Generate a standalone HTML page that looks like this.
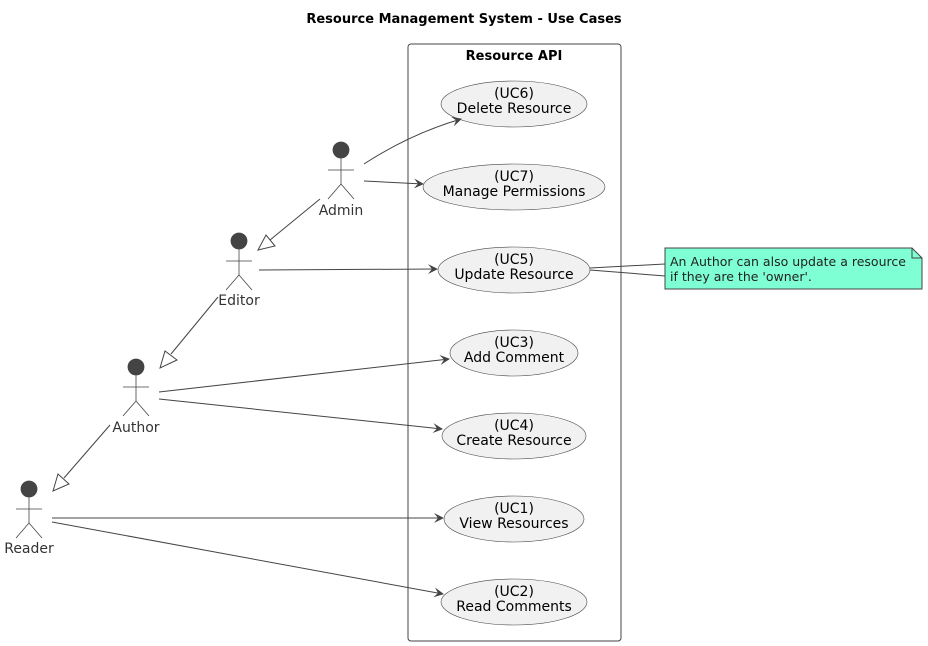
<!DOCTYPE html>
<html><head><meta charset="utf-8"><style>
html,body{margin:0;padding:0;background:#fff;}
svg{display:block;font-family:"DejaVu Sans","Liberation Sans",sans-serif;}
</style></head><body>
<svg width="928" height="646" viewBox="0 0 928 646" xmlns="http://www.w3.org/2000/svg">
<defs>
<marker id="a" markerWidth="10" markerHeight="10" refX="9" refY="5" orient="auto" markerUnits="userSpaceOnUse">
<path d="M0,0 L10,5 L0,10 L4,5 Z" fill="#444"/>
</marker>
</defs>
<text x="464" y="23" text-anchor="middle" font-size="13" font-weight="bold" fill="#000">Resource Management System - Use Cases</text>
<rect x="408" y="44" width="213" height="597" rx="3" fill="none" stroke="#444" stroke-width="1"/>
<text x="514" y="60" text-anchor="middle" font-size="13" font-weight="bold" fill="#000">Resource API</text>

<g fill="#f1f1f1" stroke="#444" stroke-width="0.6">
<ellipse cx="514" cy="104" rx="73" ry="23"/>
<ellipse cx="514" cy="187" rx="91" ry="23"/>
<ellipse cx="514" cy="270" rx="76" ry="23"/>
<ellipse cx="514" cy="353" rx="64" ry="23"/>
<ellipse cx="514" cy="436" rx="72" ry="23"/>
<ellipse cx="514" cy="519" rx="70" ry="23"/>
<ellipse cx="514" cy="602" rx="73" ry="23"/>
</g>
<g font-size="14" text-anchor="middle" fill="#000">
<text x="514" y="98">(UC6)</text><text x="514" y="113">Delete Resource</text>
<text x="514" y="181">(UC7)</text><text x="514" y="196">Manage Permissions</text>
<text x="514" y="264">(UC5)</text><text x="514" y="279">Update Resource</text>
<text x="514" y="347">(UC3)</text><text x="514" y="362">Add Comment</text>
<text x="514" y="430">(UC4)</text><text x="514" y="445">Create Resource</text>
<text x="514" y="513">(UC1)</text><text x="514" y="528">View Resources</text>
<text x="514" y="596">(UC2)</text><text x="514" y="611">Read Comments</text>
</g>

<g stroke="#444" stroke-width="0.8" fill="none">
<g transform="translate(341,150)"><circle r="8" fill="#444"/><path d="M0,8 V34 M-13,20 H13 M0,34 L-13,49 M0,34 L13,49"/></g>
<g transform="translate(239,241)"><circle r="8" fill="#444"/><path d="M0,8 V34 M-13,20 H13 M0,34 L-13,49 M0,34 L13,49"/></g>
<g transform="translate(136,367)"><circle r="8" fill="#444"/><path d="M0,8 V34 M-13,20 H13 M0,34 L-13,49 M0,34 L13,49"/></g>
<g transform="translate(29,489)"><circle r="8" fill="#444"/><path d="M0,8 V34 M-13,20 H13 M0,34 L-13,49 M0,34 L13,49"/></g>
</g>
<g font-size="14" text-anchor="middle" fill="#333">
<text x="341" y="215">Admin</text>
<text x="239" y="305">Editor</text>
<text x="136" y="432">Author</text>
<text x="29" y="553">Reader</text>
</g>

<g stroke="#444" stroke-width="1" fill="none" marker-end="url(#a)">
<path d="M364,164 Q410,134 461,119"/>
<line x1="364" y1="181" x2="423" y2="184"/>
<line x1="259" y1="270" x2="437" y2="269"/>
<line x1="159" y1="392" x2="449" y2="359"/>
<line x1="159" y1="399" x2="442" y2="429"/>
<line x1="52" y1="518" x2="443" y2="518"/>
<line x1="52" y1="522" x2="443" y2="594"/>
</g>

<g stroke="#444" stroke-width="1" fill="#fff">
<line x1="320" y1="199" x2="270" y2="240"/>
<path d="M258,250 L266,235 L275,246 Z"/>
<line x1="218" y1="297" x2="171" y2="354"/>
<path d="M160,368 L165,351 L177,360 Z"/>
<line x1="110" y1="425" x2="64" y2="478"/>
<path d="M53,491 L58,474 L69,484 Z"/>
</g>

<line x1="590" y1="268" x2="665" y2="264" stroke="#444" stroke-width="1"/>
<line x1="590" y1="270" x2="665" y2="276" stroke="#444" stroke-width="1"/>
<path d="M665,248 H912 L922,258 V289 H665 Z" fill="#7fffd4" stroke="#444" stroke-width="1"/>
<path d="M912,248 V258 H922" fill="none" stroke="#444" stroke-width="1"/>
<g font-size="12.5" fill="#222">
<text x="670" y="266">An Author can also update a resource</text>
<text x="670" y="281">if they are the 'owner'.</text>
</g>
</svg>
</body></html>
